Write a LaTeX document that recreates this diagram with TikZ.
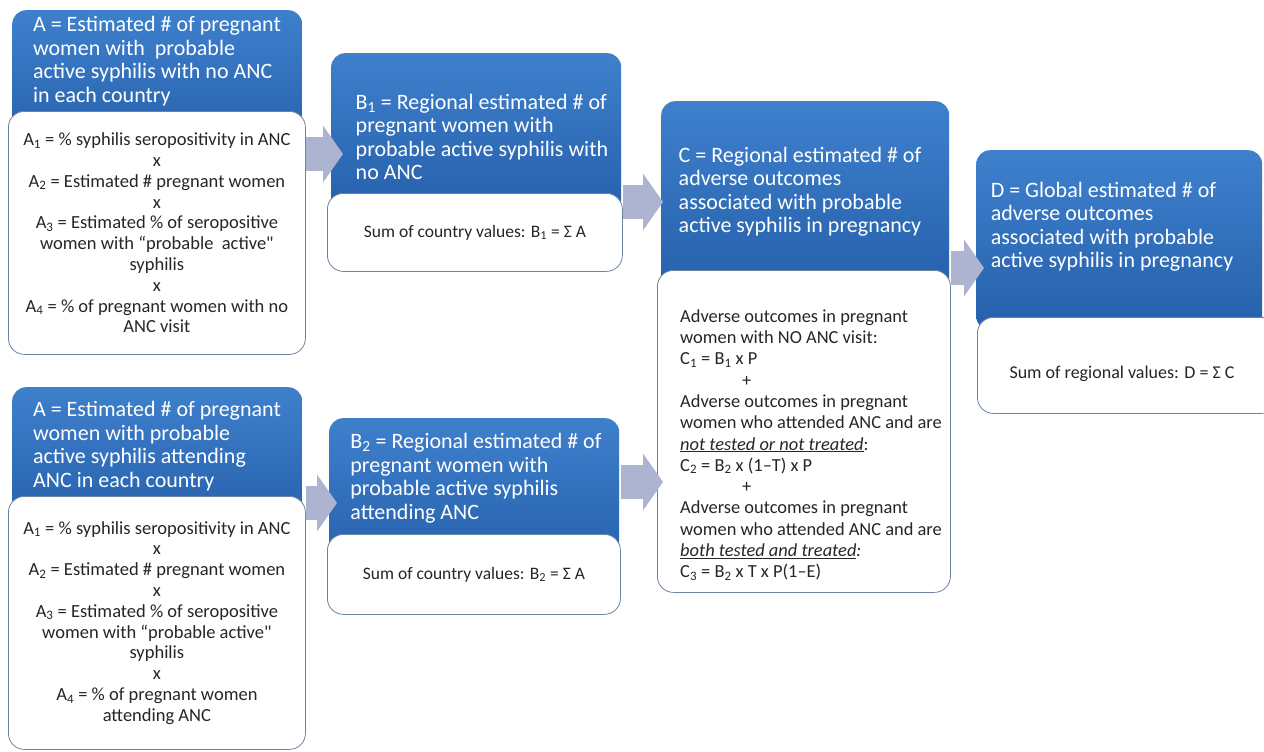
\documentclass[tikz,border=0pt]{standalone}
\usepackage{fontspec}
\setmainfont{Carlito}
\usetikzlibrary{arrows.meta}
\definecolor{headtop}{RGB}{62,128,204}
\definecolor{headbot}{RGB}{38,96,172}
\definecolor{boxline}{RGB}{110,130,162}
\definecolor{flowgray}{RGB}{172,180,210}
\newcommand\headsize{\fontsize{22}{23.5}\selectfont}
\newcommand\bodysize{\fontsize{18.5}{20.8}\selectfont}
\newcommand\sumsize{\fontsize{17.5}{20}\selectfont}
\newcommand\calcsize{\fontsize{18.4}{21.3}\selectfont}
\tikzset{
    headbox/.style={rounded corners=14pt, top color=headtop, bottom color=headbot, inner sep=0pt, anchor=north west},
    bodybox/.style={rounded corners=16pt, fill=white, draw=boxline, line width=.8pt, inner sep=0pt, anchor=north west},
    headtext/.style={text=white, align=left, font=\headsize, inner sep=0pt},
    bodytext/.style={text=black!85, align=center, font=\bodysize, inner sep=0pt},
    sumtext/.style={text=black!85, font=\sumsize, inner sep=0pt},
    flowarrow/.style={draw=flowgray, line width=34pt, -{Triangle[length=20pt, width=56pt]}}
}

\begin{document}
\begin{tikzpicture}[x=1pt, y=-1pt]
    \useasboundingbox[fill=white] (0,0) rectangle (1264,752);
    \coordinate (row1) at (0,154);
    \coordinate (row2) at (0,202);
    \coordinate (row3) at (0,268);
    \coordinate (row4) at (0,503);
    \coordinate (row5) at (0,482);

    % no ANC
    \node[headbox, minimum width=290, minimum height=140] (a1head) at (12,10) {};
    \node[bodybox, minimum width=297, minimum height=243] (a1body) at (8,111) {};
    \node[headtext] (a1title) at (157,61) {A = Estimated \# of pregnant\\women with \ probable\\active syphilis with no ANC\\in each country};
    \node[bodytext] (a1calc) at (a1body.center) {A\textsubscript{1} = \% syphilis seropositivity in ANC\\x\\A\textsubscript{2} = Estimated \# pregnant women\\x\\A\textsubscript{3} = Estimated \% of seropositive\\women with “probable \ active\textquotedbl\\syphilis\\x\\A\textsubscript{4} = \% of pregnant women with no\\ANC visit};

    \node[headbox, minimum width=290, minimum height=160] (b1head) at (331,53) {};
    \node[bodybox, minimum width=295, minimum height=78] (b1body) at (327,193) {};
    \node[headtext] (b1title) at (482,137) {B\textsubscript{1} = Regional estimated \# of\\pregnant women with\\probable active syphilis with\\no ANC};
    \node[sumtext] (b1calc) at (b1body.center) {Sum of country values: B\textsubscript{1} = Σ A};

    % attending ANC
    \node[headbox, minimum width=290, minimum height=140] (a2head) at (12,387) {};
    \node[bodybox, minimum width=297, minimum height=253] (a2body) at (8,496) {};
    \node[headtext] (a2title) at (157,446) {A = Estimated \# of pregnant\\women with probable\\active syphilis attending\\ANC in each country};
    \node[bodytext] (a2calc) at (a2body.center) {A\textsubscript{1} = \% syphilis seropositivity in ANC\\x\\A\textsubscript{2} = Estimated \# pregnant women\\x\\A\textsubscript{3} = Estimated \% of seropositive\\women with “probable active\textquotedbl\\syphilis\\x\\A\textsubscript{4} = \% of pregnant women\\attending ANC};

    \node[headbox, minimum width=290, minimum height=150] (b2head) at (329,418) {};
    \node[bodybox, minimum width=293, minimum height=80] (b2body) at (327,534) {};
    \node[headtext] (b2title) at (476,478) {B\textsubscript{2} = Regional estimated \# of\\pregnant women with\\probable active syphilis\\attending ANC};
    \node[sumtext] (b2calc) at (b2body.center) {Sum of country values: B\textsubscript{2} = Σ A};

    % regional and global
    \node[headbox, minimum width=288, minimum height=190] (chead) at (661,101) {};
    \node[bodybox, minimum width=293, minimum height=322] (cbody) at (657,270) {};
    \node[headtext] (ctitle) at (800,192) {C = Regional estimated \# of\\adverse outcomes\\associated with probable\\active syphilis in pregnancy};
    \node[bodytext, align=left, font=\calcsize, anchor=west] (ccalc) at (680,445) {Adverse outcomes in pregnant\\women with NO ANC visit:\\C\textsubscript{1} = B\textsubscript{1} x P\\\hspace*{62pt}+\\Adverse outcomes in pregnant\\women who attended ANC and are\\\underline{\textit{not tested or not treated}}:\\C\textsubscript{2} = B\textsubscript{2} x (1–T) x P\\\hspace*{62pt}+\\Adverse outcomes in pregnant\\women who attended ANC and are\\\underline{\textit{both tested and treated}}\textit{:}\\C\textsubscript{3} = B\textsubscript{2} x T x P(1–E)};

    \node[headbox, minimum width=286, minimum height=180] (dhead) at (976,150) {};
    \node[bodybox, minimum width=300, minimum height=96] (dbody) at (977,317) {};
    \node[headtext] (dtitle) at (1112,227) {D = Global estimated \# of\\adverse outcomes\\associated with probable\\active syphilis in pregnancy};
    \node[sumtext, font=\fontsize{18}{20}\selectfont] (dcalc) at (1122,374) {Sum of regional values: D = Σ C};

    \draw[flowarrow, shorten >=-12pt] (a1body.east |- row1) -- (b1head.west |- row1);
    \draw[flowarrow, shorten >=-2pt] (b1body.east |- row2) -- (chead.west |- row2);
    \draw[flowarrow, shorten >=-8pt] (cbody.east |- row3) -- (dhead.west |- row3);
    \draw[flowarrow, shorten >=-8pt] (a2body.east |- row4) -- (b2head.west |- row4);
    \draw[flowarrow, shorten >=-2pt] (b2body.east |- row5) -- (chead.west |- row5);
\end{tikzpicture}
\end{document}
